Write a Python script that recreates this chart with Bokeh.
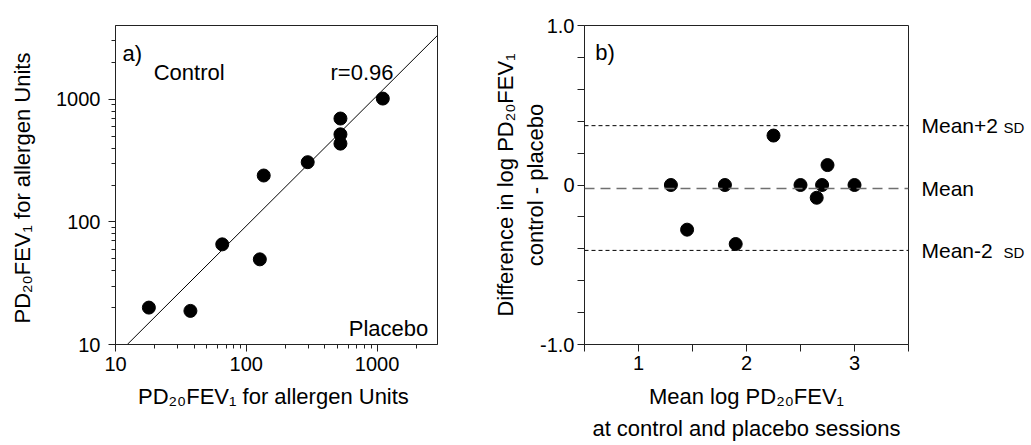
import math
from bokeh.plotting import figure
from bokeh.layouts import row
from bokeh.models import (ColumnDataSource, FixedTicker, Label, Span, Range1d, LinearAxis,
                          NumeralTickFormatter, CustomJSTickFormatter)
from bokeh.embed import file_html
from bokeh.resources import INLINE

# ---------------- data: panel a ----------------
placebo_pd20 = [18, 37.4, 65.5, 127, 136, 295, 525, 525, 525, 1107]
control_pd20 = [20, 18.8, 65.6, 49.5, 239, 307, 697, 518, 435, 1014]
fit_placebo = [12.3, 2900]
fit_control = [10, 3320]
r_label = "r=0.96"
a_major_ticks = [10, 100, 1000]
a_minor_x = [20, 30, 40, 50, 60, 70, 80, 90, 200, 300, 400, 500, 600, 700, 800, 900, 2000]
a_minor_y = [20, 30, 40, 50, 60, 70, 80, 90, 200, 300, 400, 500, 600, 700, 800, 900, 2000, 3000]

# ---------------- data: panel b ----------------
mean_log_pd20 = [1.30, 1.45, 1.80, 1.90, 2.25, 2.50, 2.65, 2.70, 2.75, 3.00]
diff_log_pd20 = [0.0, -0.28, 0.0, -0.37, 0.31, 0.0, -0.08, 0.0, 0.125, 0.0]
mean_diff = -0.022
upper_loa = 0.372
lower_loa = -0.41
b_major_x = [1, 2, 3]
b_minor_x = [0.5, 1.5, 2.5, 3.5]
b_major_y = [-1, 0, 1]
b_minor_y = [-0.8, -0.6, -0.4, -0.2, 0.2, 0.4, 0.6, 0.8]
ref_line_names = ["Mean+2", "Mean", "Mean-2"]

FONT = "Liberation Sans"
INK = "#222222"
XLAB = "PD\u2082\u2080FEV\u2081 for allergen  Units"


def style_axis(ax, tick_out=7, minor_out=4, label_standoff=5):
    ax.axis_line_color = INK
    ax.axis_line_width = 1
    ax.major_tick_line_color = INK
    ax.minor_tick_line_color = INK
    ax.major_tick_in = 0
    ax.minor_tick_in = 0
    ax.major_tick_out = tick_out
    ax.minor_tick_out = minor_out
    ax.major_label_text_font = FONT
    ax.major_label_text_font_size = "20px"
    ax.major_label_text_color = "black"
    ax.major_label_standoff = label_standoff
    ax.axis_label_text_font = FONT
    ax.axis_label_text_font_size = "22px"
    ax.axis_label_text_font_style = "normal"
    ax.axis_label_text_color = "black"


# ================= panel a =================
pa = figure(width=480, height=445, x_axis_type="log", y_axis_type="log",
            x_range=Range1d(10, 2900), y_range=Range1d(10, 4000),
            output_backend="svg", toolbar_location=None,
            min_border_left=115, min_border_right=43,
            min_border_top=25, min_border_bottom=101)
pa.xgrid.visible = False
pa.ygrid.visible = False
pa.outline_line_color = INK
pa.outline_line_width = 1
pa.background_fill_color = "white"
pa.border_fill_color = "white"

pa.xaxis.ticker = FixedTicker(ticks=a_major_ticks, minor_ticks=a_minor_x)
pa.yaxis.ticker = FixedTicker(ticks=a_major_ticks, minor_ticks=a_minor_y)
pa.xaxis.formatter = NumeralTickFormatter(format="0")
pa.yaxis.formatter = NumeralTickFormatter(format="0")
style_axis(pa.xaxis[0], label_standoff=5)
style_axis(pa.yaxis[0], label_standoff=8)
pa.xaxis.axis_label = XLAB
pa.yaxis.axis_label = XLAB
pa.xaxis.axis_label_standoff = 10
pa.yaxis.axis_label_standoff = 18

src_a = ColumnDataSource(dict(x=placebo_pd20, y=control_pd20))
pa.line(x=fit_placebo, y=fit_control, line_color="black", line_width=1)
pa.scatter(x="x", y="y", source=src_a, size=13, fill_color="black", line_color="black")

for txt, x, y in [("a)", 11.3, 2360), ("Control", 19.6, 1660),
                  (r_label, 441, 1660), ("Placebo", 608, 13.6)]:
    pa.add_layout(Label(x=x, y=y, text=txt, text_font=FONT, text_font_size="22px",
                        text_color="black", text_baseline="alphabetic", text_align="left"))

# ================= panel b =================
pb = figure(width=551, height=445,
            x_range=Range1d(0.5, 3.5), y_range=Range1d(-1.0, 1.0),
            output_backend="svg", toolbar_location=None,
            min_border_left=104, min_border_right=123,
            min_border_top=25, min_border_bottom=101)
pb.xgrid.visible = False
pb.ygrid.visible = False
pb.outline_line_color = INK
pb.outline_line_width = 1
pb.background_fill_color = "white"
pb.border_fill_color = "white"

pb.xaxis.ticker = FixedTicker(ticks=b_major_x, minor_ticks=b_minor_x)
pb.yaxis.ticker = FixedTicker(ticks=b_major_y, minor_ticks=b_minor_y)
pb.yaxis.formatter = CustomJSTickFormatter(code="return tick == 0 ? '0' : tick.toFixed(1);")
pb.xaxis.formatter = CustomJSTickFormatter(code="return tick.toFixed(0);")
style_axis(pb.xaxis[0], tick_out=7, minor_out=7, label_standoff=4)
style_axis(pb.yaxis[0], tick_out=7, minor_out=7, label_standoff=3)

pb.xaxis.axis_label = "Mean log PD\u2082\u2080FEV\u2081\nat control and placebo sessions"
pb.xaxis.axis_label_text_line_height = 1.3
pb.xaxis.axis_label_standoff = 11
pb.yaxis.axis_label = "Difference in log PD\u2082\u2080FEV\u2081\ncontrol - placebo"
pb.yaxis.axis_label_text_line_height = 1.2
pb.yaxis.axis_label_standoff = -11

pb.add_layout(Span(location=upper_loa, dimension="width", line_color="black",
                   line_width=1, line_dash="4 3"))
pb.add_layout(Span(location=lower_loa, dimension="width", line_color="black",
                   line_width=1, line_dash="4 3"))
pb.add_layout(Span(location=mean_diff, dimension="width", line_color="#707070",
                   line_width=1.5, line_dash="10 6"))

src_b = ColumnDataSource(dict(x=mean_log_pd20, y=diff_log_pd20))
pb.scatter(x="x", y="y", source=src_b, size=13, fill_color="black", line_color="black")

pb.add_layout(Label(x=0.6, y=0.833, text="b)", text_font=FONT, text_font_size="22px",
                    text_color="black", text_baseline="alphabetic"))

# reference-line labels as right-hand axes ("SD" axis nudged 2px down so baselines align)
pb.extra_y_ranges = {"sd": Range1d(-1.0 + 0.0125, 1.0 + 0.0125)}
ref_vals = [upper_loa, mean_diff, lower_loa]
ax_names = LinearAxis(ticker=FixedTicker(ticks=ref_vals, minor_ticks=[]),
                      major_label_overrides=dict(zip(ref_vals, ref_line_names)))
ax_sd = LinearAxis(y_range_name="sd",
                   ticker=FixedTicker(ticks=[upper_loa, lower_loa], minor_ticks=[]),
                   major_label_overrides={upper_loa: "SD", lower_loa: "SD"})
for ax, size, standoff in [(ax_names, "21px", 13), (ax_sd, "15px", 3)]:
    ax.axis_line_color = None
    ax.major_tick_line_color = None
    ax.minor_tick_line_color = None
    ax.major_tick_out = 0
    ax.major_tick_in = 0
    ax.major_label_standoff = standoff
    ax.major_label_text_font = FONT
    ax.major_label_text_font_size = size
    ax.major_label_text_color = "black"
pb.add_layout(ax_names, "right")
pb.add_layout(ax_sd, "right")

layout = row(pa, pb)
open("out.html", "w").write(file_html(layout, INLINE))
